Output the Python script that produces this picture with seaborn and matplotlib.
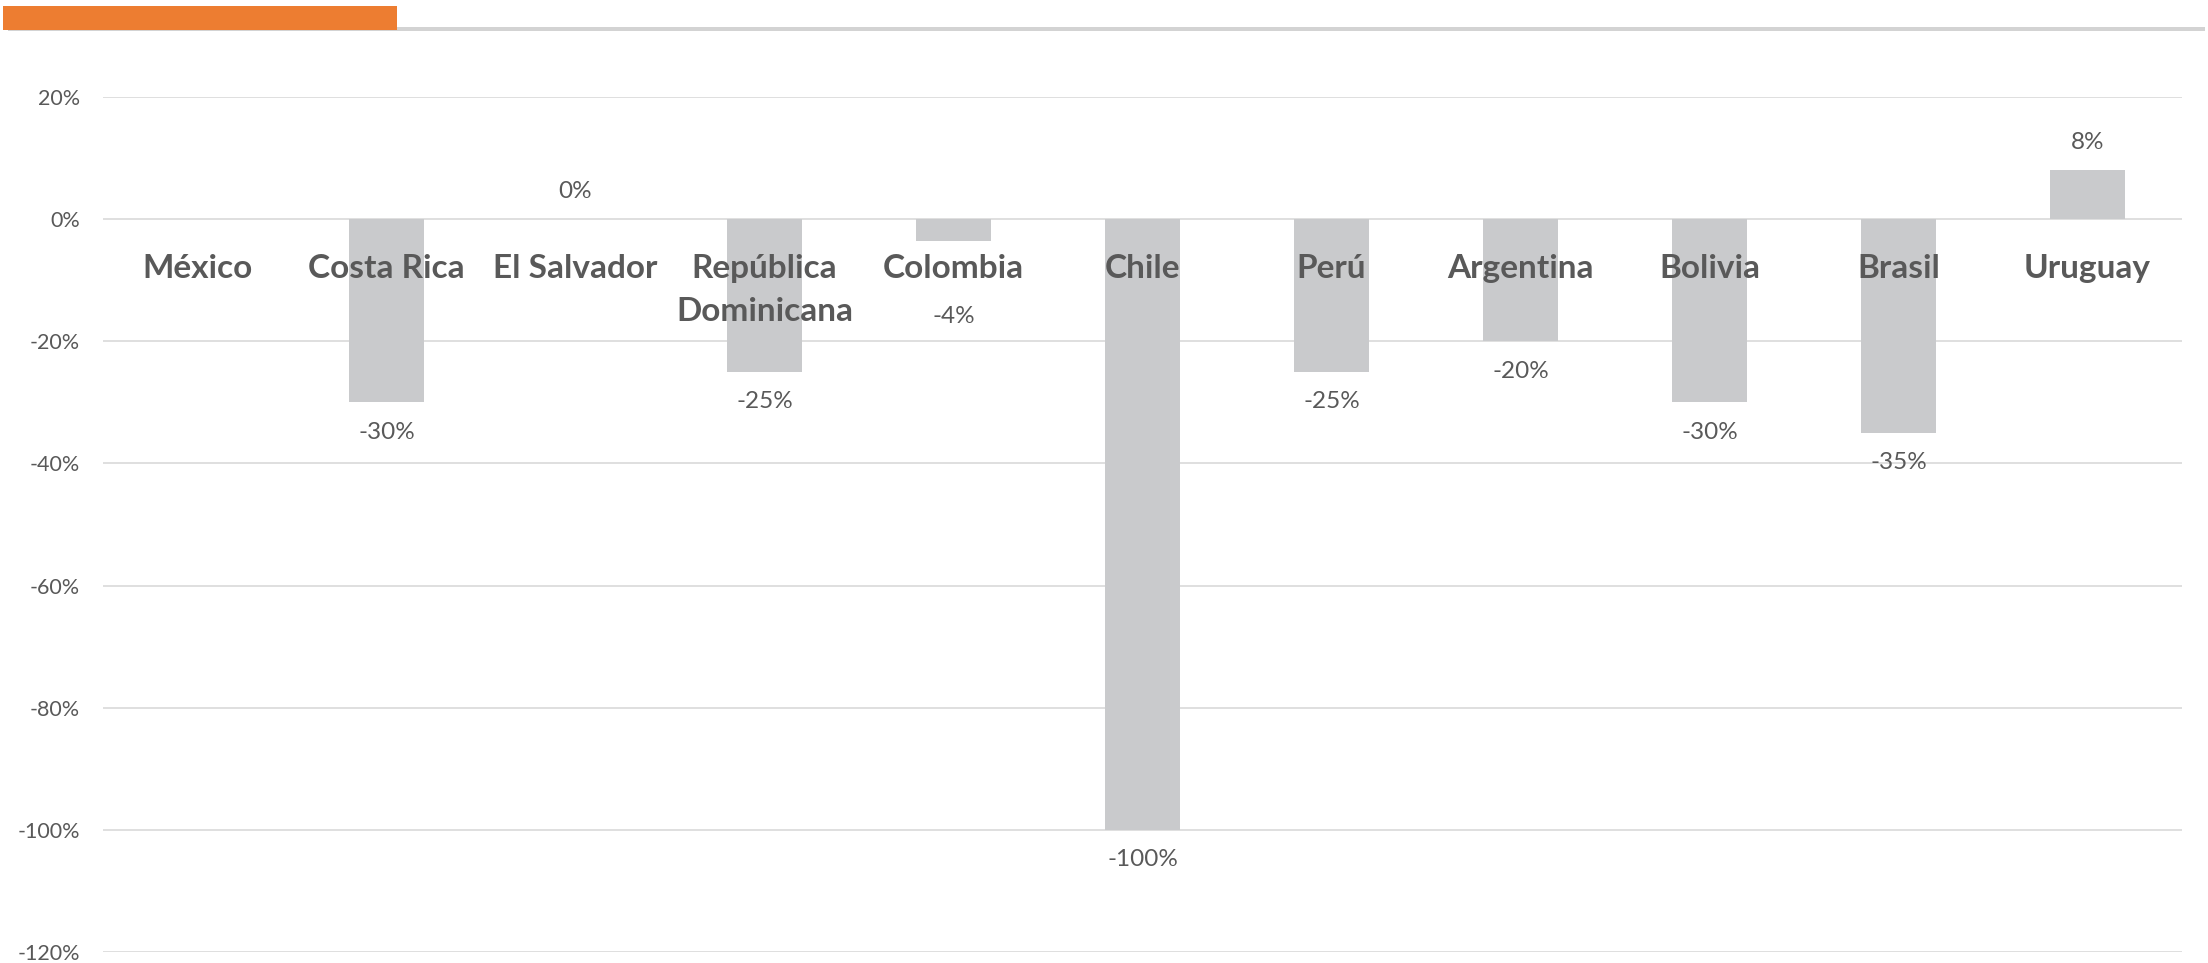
import matplotlib
matplotlib.use("Agg")
import matplotlib.pyplot as plt
from matplotlib.patches import Rectangle
import numpy as np
import pandas as pd
import seaborn as sns

# datos del grafico
paises = ["México", "Costa Rica", "El Salvador", "República\nDominicana", "Colombia",
          "Chile", "Perú", "Argentina", "Bolivia", "Brasil", "Uruguay"]
variacion = [np.nan, -0.30, 0.0, -0.25, -0.036, -1.00, -0.25, -0.20, -0.30, -0.35, 0.08]
y_ticks = [0.2, 0.0, -0.2, -0.4, -0.6, -0.8, -1.0, -1.2]
y_tick_labels = ["20%", "0%", "-20%", "-40%", "-60%", "-80%", "-100%", "-120%"]

df = pd.DataFrame({"pais": paises, "valor": variacion})

sns.set_style("white")
plt.rcParams["font.family"] = ["Lato", "DejaVu Sans"]
texto = "#595959"

W, H = 2208, 963
fig = plt.figure(figsize=(W / 100, H / 100), dpi=100)

# barra de encabezado (naranja + linea gris)
fig.add_artist(Rectangle((8 / W, 1 - 31 / H), (2205 - 8) / W, 4 / H,
                         transform=fig.transFigure, color="#d3d3d3", lw=0))
fig.add_artist(Rectangle((3 / W, 1 - 30 / H), (397 - 3) / W, 24 / H,
                         transform=fig.transFigure, color="#ed7d31", lw=0))

ax = fig.add_axes([103 / W, 1 - 952 / H, (2182 - 103) / W, (952 - 97) / H])

sns.barplot(data=df, x="pais", y="valor", order=paises, color="#c9cacc",
            width=0.40, errorbar=None, saturation=1, linewidth=0, ax=ax)

ax.set_xlim(-0.5, len(paises) - 0.5)
ax.set_ylim(-1.2, 0.2)
ax.set_yticks(y_ticks)
ax.set_yticklabels(y_tick_labels)
ax.yaxis.grid(True, color="#d9d9d9", lw=1.2)
ax.set_axisbelow(True)
ax.xaxis.set_zorder(3)  # nombres de paises encima de las barras
for s in ax.spines.values():
    s.set_visible(False)
ax.spines["bottom"].set_position(("data", 0))

ax.tick_params(axis="y", length=0, pad=16.5, labelsize=15.5, labelcolor=texto)
ax.tick_params(axis="x", length=0, pad=25)
ax.set_xticks(range(len(paises)))
ax.set_xticklabels(paises, fontsize=24, fontweight="bold", color=texto,
                   linespacing=1.6)
ax.set_xlabel("")
ax.set_ylabel("")

# etiquetas de datos
ajuste = {"Colombia": 33}
for i, (p, v) in enumerate(zip(paises, variacion)):
    if np.isnan(v):
        continue
    if v >= 0:
        off, va = 12.5, "bottom"
    else:
        off, va = -14 - ajuste.get(p, 0), "top"
    ax.annotate(f"{v:.0%}", (i, v), xytext=(0, off), textcoords="offset points",
                ha="center", va=va, fontsize=17.5, color=texto, zorder=4)

plt.savefig("out.png", dpi=100)
